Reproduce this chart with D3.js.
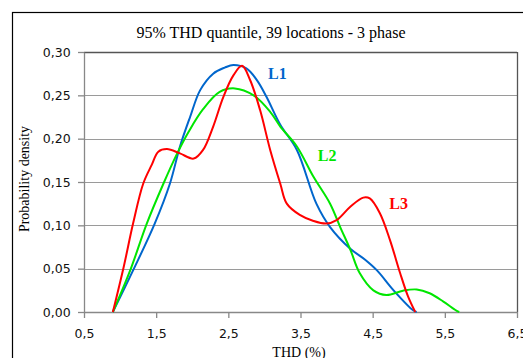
<!DOCTYPE html>
<html>
<head>
<meta charset="utf-8">
<script src="https://cdn.jsdelivr.net/npm/d3@7"></script>
<style>
  body { margin: 0; background: #fff; }
  svg { display: block; }
</style>
</head>
<body>
<div id="chart"></div>
<script>
// data (THD %, probability density)
let l1X = [0.9, 1.18, 1.48, 1.69, 1.83, 1.97, 2.11, 2.29, 2.45, 2.57, 2.75, 2.9, 3.03, 3.22, 3.45, 3.72, 3.91, 4.19, 4.4, 4.56, 4.79, 5.06, 5.11]
let l1Y = [0, 0.048, 0.102, 0.148, 0.191, 0.225, 0.256, 0.275, 0.282, 0.285, 0.281, 0.267, 0.248, 0.216, 0.187, 0.125, 0.098, 0.073, 0.06, 0.048, 0.025, 0.002, 0]

let l2X = [0.9, 1.14, 1.37, 1.6, 1.78, 1.95, 2.15, 2.38, 2.59, 2.85, 3.08, 3.22, 3.45, 3.68, 3.91, 4.05, 4.19, 4.32, 4.51, 4.69, 4.92, 5.11, 5.29, 5.48, 5.66, 5.7]
let l2Y = [0, 0.048, 0.102, 0.148, 0.181, 0.208, 0.234, 0.254, 0.258, 0.25, 0.231, 0.214, 0.191, 0.156, 0.125, 0.098, 0.072, 0.045, 0.025, 0.0196, 0.0246, 0.026, 0.0216, 0.012, 0.0015, 0]

let l3X = [0.9, 1.05, 1.18, 1.32, 1.44, 1.53, 1.65, 1.83, 2.02, 2.15, 2.29, 2.43, 2.57, 2.69, 2.8, 2.94, 3.08, 3.22, 3.31, 3.49, 3.68, 3.86, 4.0, 4.19, 4.37, 4.46, 4.6, 4.74, 4.88, 4.99, 5.09]
let l3Y = [0, 0.052, 0.102, 0.148, 0.17, 0.185, 0.188, 0.183, 0.177, 0.187, 0.214, 0.248, 0.273, 0.284, 0.268, 0.233, 0.187, 0.148, 0.125, 0.112, 0.105, 0.102, 0.106, 0.1215, 0.132, 0.131, 0.114, 0.083, 0.045, 0.018, 0]

let xTicks = [0.5, 1.5, 2.5, 3.5, 4.5, 5.5, 6.5]
let yTicks = [0, 0.05, 0.10, 0.15, 0.20, 0.25, 0.30]

let series = [
    {name: 'L1', xs: l1X, ys: l1Y, color: '#0066cc', lx: 3.05, ly: 0.269},
    {name: 'L2', xs: l2X, ys: l2Y, color: '#00e600', lx: 3.74, ly: 0.174},
    {name: 'L3', xs: l3X, ys: l3Y, color: '#ff0000', lx: 4.73, ly: 0.119}
]

let svgWidth = 523
let svgHeight = 358

let margin = { left: 84, right: 6, top: 52, bottom: 46 }
let width = svgWidth - margin.left - margin.right
let height = svgHeight - margin.top - margin.bottom

let root = d3.select('#chart')
    .append('svg')
    .attr('width', svgWidth)
    .attr('height', svgHeight)

// outer chart frame
root.append('rect')
    .attr('x', 12.5).attr('y', 12.5)
    .attr('width', 600).attr('height', 400)
    .attr('fill', 'none')
    .attr('stroke', '#000')
    .attr('stroke-width', 1.2)

root.append('text')
    .attr('x', 271).attr('y', 38)
    .attr('text-anchor', 'middle')
    .style('font-family', '"Liberation Serif", serif')
    .style('font-size', '16px')
    .text('95% THD quantile, 39 locations - 3 phase')

let svg = root.append('g')
    .attr('transform', `translate(${margin.left},${margin.top})`)

let xScale = d3.scaleLinear().domain([0.5, 6.5]).range([0, width])
let yScale = d3.scaleLinear().domain([0, 0.3]).range([height, 0])

// gridlines
svg.append('g')
    .selectAll('line')
    .data(yTicks.slice(1))
    .join('line')
    .attr('x1', 0).attr('x2', width)
    .attr('y1', d => Math.round(yScale(d)) + 0.5)
    .attr('y2', d => Math.round(yScale(d)) + 0.5)
    .attr('stroke', '#9a9a9a')
    .attr('stroke-width', 1.2)

// right and top border of plot area
svg.append('line')
    .attr('x1', width + 0.5).attr('x2', width + 0.5)
    .attr('y1', 0).attr('y2', height)
    .attr('stroke', '#555').attr('stroke-width', 1.3)
svg.append('line')
    .attr('x1', 0).attr('x2', width)
    .attr('y1', 0.5).attr('y2', 0.5)
    .attr('stroke', '#555').attr('stroke-width', 1.3)

let fmt = d => d3.format('.2f')(d).replace('.', ',')
let fmtX = d => d3.format('.1f')(d).replace('.', ',')

let xAxis = d3.axisBottom(xScale).tickValues(xTicks).tickFormat(fmtX).tickSize(6).tickSizeOuter(0)
let yAxis = d3.axisLeft(yScale).tickValues(yTicks).tickFormat(fmt).tickSize(6).tickSizeOuter(0)

let gx = svg.append('g')
    .attr('id', 'x-axis')
    .attr('transform', `translate(0,${height})`)
    .call(xAxis)
let gy = svg.append('g')
    .attr('id', 'y-axis')
    .call(yAxis)

;[gx, gy].forEach(g => {
    g.selectAll('path, line').attr('stroke', '#888').attr('stroke-width', 1.3)
    g.selectAll('text')
        .style('font-family', '"DejaVu Sans", sans-serif')
        .style('font-size', '12.5px')
        .attr('fill', '#111')
})
gx.selectAll('text').attr('dy', '1.35em')
gy.selectAll('text').attr('dx', '-0.35em')

// axis titles
root.append('text')
    .attr('transform', `translate(29,${179}) rotate(-90)`)
    .attr('text-anchor', 'middle')
    .style('font-family', '"Liberation Serif", serif')
    .style('font-size', '14px')
    .text('Probability density')

root.append('text')
    .attr('x', 299).attr('y', 357)
    .attr('text-anchor', 'middle')
    .style('font-family', '"Liberation Serif", serif')
    .style('font-size', '14px')
    .text('THD (%)')

// curves
let valueLine = d3.line()
    .x(d => xScale(d[0]))
    .y(d => yScale(d[1]))
    .curve(d3.curveCatmullRom.alpha(0.5))

series.forEach(s => {
    svg.append('path')
        .attr('d', valueLine(d3.zip(s.xs, s.ys)))
        .attr('fill', 'none')
        .attr('stroke', s.color)
        .attr('stroke-width', 2)
        .attr('stroke-linejoin', 'round')

    svg.append('text')
        .attr('x', xScale(s.lx))
        .attr('y', yScale(s.ly))
        .attr('fill', s.color)
        .style('font-family', '"Liberation Serif", serif')
        .style('font-weight', 'bold')
        .style('font-size', '16px')
        .text(s.name)
})
</script>
</body>
</html>
